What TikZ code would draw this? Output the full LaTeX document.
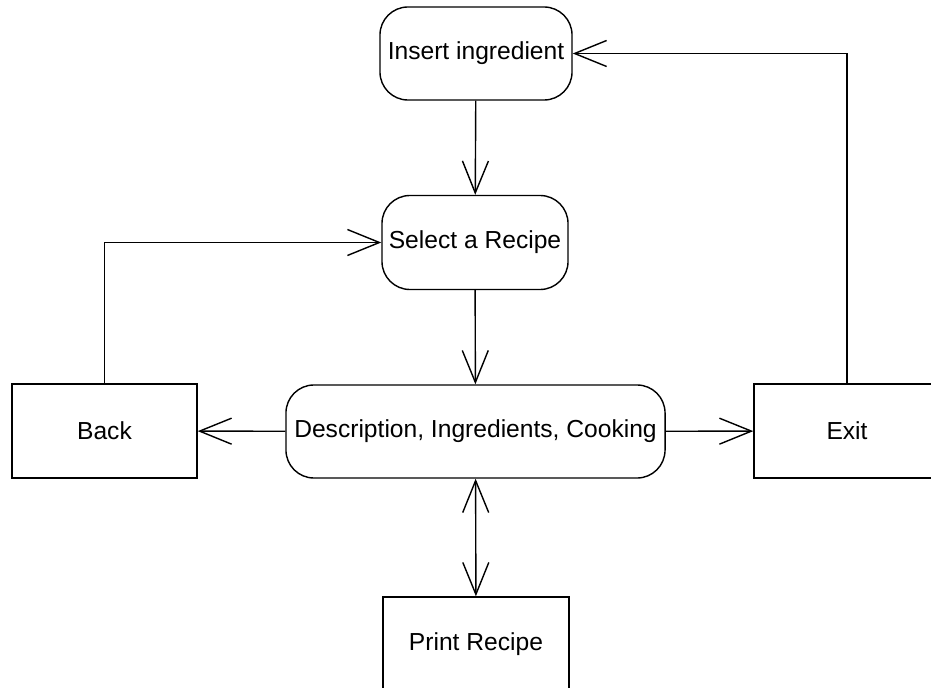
\documentclass[tikz,border=0pt]{standalone}
\usepackage{fontspec}
\setmainfont{Liberation Sans}
\usetikzlibrary{arrows.meta}

\begin{document}
\begin{tikzpicture}[
        x=0.025cm, y=-0.025cm,
        every node/.style = {font=\fontsize{17.5pt}{21pt}\selectfont},
        act/.style   = {draw, rounded corners=0.7cm, line width=1pt,
                        minimum width=4.65cm, minimum height=2.35cm, inner sep=0pt},
        box/.style   = {draw, line width=1pt,
                        minimum width=4.65cm, minimum height=2.35cm, inner sep=0pt},
        flow/.style  = {-{Straight Barb[length=0.8cm, width=0.65cm]}, line width=1pt},
        both/.style  = {{Straight Barb[length=0.8cm, width=0.65cm]}-{Straight Barb[length=0.8cm, width=0.65cm]},
                        line width=1pt},
    ]
        \useasboundingbox (0,0) rectangle (931,688);

        % ---- nodes (pixel grid of the page) ----
        \node (ins)   [act, minimum width=4.8cm, minimum height=2.325cm] at (476, 53.5) {Insert ingredient};
        \node (sel)   [act] at (475, 242.5) {Select a Recipe};
        \node (desc)  [act, minimum width=9.475cm, minimum height=2.325cm] at (475.5, 431.5)
            {Description, Ingredients, Cooking};
        \node (back)  [box, minimum width=4.625cm] at (104.5, 431) {Back};
        \node (exit)  [box] at (847, 431) {Exit};
        \node (print) [box] at (476, 644) {Print Recipe};

        % ---- main flow ----
        \draw[flow] (ins) -- (sel);
        \draw[flow] (sel) -- (desc);
        \draw[flow] (desc) -- (back);
        \draw[flow] (desc) -- (exit);
        \draw[both] (desc) -- (print);

        % ---- return lines ----
        \draw[flow] (back.north) |- (sel.west);
        \draw[flow] (exit.north) |- (ins.east);
    \end{tikzpicture}
\end{document}
